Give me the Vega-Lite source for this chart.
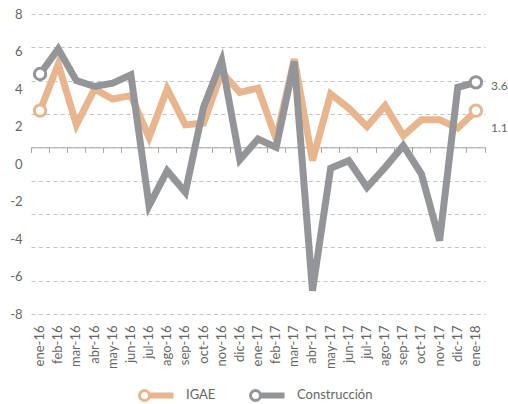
{
  "$schema": "https://vega.github.io/schema/vega-lite/v6.json",
  "width": 454,
  "height": 300,
  "autosize": {"type": "none"},
  "padding": {"left": 31, "top": 14, "right": 23, "bottom": 90},
  "config": {
    "view": {"stroke": null},
    "font": "Lato",
    "text": {"font": "Lato"}
  },
  "datasets": {
    "series": [
      {"mes": "ene-16", "serie": "IGAE", "valor": 2.2},
      {"mes": "feb-16", "serie": "IGAE", "valor": 5.0},
      {"mes": "mar-16", "serie": "IGAE", "valor": 1.35},
      {"mes": "abr-16", "serie": "IGAE", "valor": 3.5},
      {"mes": "may-16", "serie": "IGAE", "valor": 2.9},
      {"mes": "jun-16", "serie": "IGAE", "valor": 3.1},
      {"mes": "jul-16", "serie": "IGAE", "valor": 0.6},
      {"mes": "ago-16", "serie": "IGAE", "valor": 3.5},
      {"mes": "sep-16", "serie": "IGAE", "valor": 1.35},
      {"mes": "oct-16", "serie": "IGAE", "valor": 1.45},
      {"mes": "nov-16", "serie": "IGAE", "valor": 4.5},
      {"mes": "dic-16", "serie": "IGAE", "valor": 3.3},
      {"mes": "ene-17", "serie": "IGAE", "valor": 3.55},
      {"mes": "feb-17", "serie": "IGAE", "valor": 0.5},
      {"mes": "mar-17", "serie": "IGAE", "valor": 5.3},
      {"mes": "abr-17", "serie": "IGAE", "valor": -0.8},
      {"mes": "may-17", "serie": "IGAE", "valor": 3.2},
      {"mes": "jun-17", "serie": "IGAE", "valor": 2.35},
      {"mes": "jul-17", "serie": "IGAE", "valor": 1.25},
      {"mes": "ago-17", "serie": "IGAE", "valor": 2.5},
      {"mes": "sep-17", "serie": "IGAE", "valor": 0.7},
      {"mes": "oct-17", "serie": "IGAE", "valor": 1.65},
      {"mes": "nov-17", "serie": "IGAE", "valor": 1.65},
      {"mes": "dic-17", "serie": "IGAE", "valor": 1.15},
      {"mes": "ene-18", "serie": "IGAE", "valor": 2.2},
      {"mes": "ene-16", "serie": "Construcción", "valor": 4.4},
      {"mes": "feb-16", "serie": "Construcción", "valor": 5.9},
      {"mes": "mar-16", "serie": "Construcción", "valor": 4.0},
      {"mes": "abr-16", "serie": "Construcción", "valor": 3.65},
      {"mes": "may-16", "serie": "Construcción", "valor": 3.85},
      {"mes": "jun-16", "serie": "Construcción", "valor": 4.35},
      {"mes": "jul-16", "serie": "Construcción", "valor": -3.5},
      {"mes": "ago-16", "serie": "Construcción", "valor": -1.4},
      {"mes": "sep-16", "serie": "Construcción", "valor": -2.7},
      {"mes": "oct-16", "serie": "Construcción", "valor": 2.4},
      {"mes": "nov-16", "serie": "Construcción", "valor": 5.2},
      {"mes": "dic-16", "serie": "Construcción", "valor": -0.75},
      {"mes": "ene-17", "serie": "Construcción", "valor": 0.5},
      {"mes": "feb-17", "serie": "Construcción", "valor": 0.0},
      {"mes": "mar-17", "serie": "Construcción", "valor": 5.15},
      {"mes": "abr-17", "serie": "Construcción", "valor": -8.6},
      {"mes": "may-17", "serie": "Construcción", "valor": -1.25},
      {"mes": "jun-17", "serie": "Construcción", "valor": -0.8},
      {"mes": "jul-17", "serie": "Construcción", "valor": -2.4},
      {"mes": "ago-17", "serie": "Construcción", "valor": -1.2},
      {"mes": "sep-17", "serie": "Construcción", "valor": 0.1},
      {"mes": "oct-17", "serie": "Construcción", "valor": -1.6},
      {"mes": "nov-17", "serie": "Construcción", "valor": -5.6},
      {"mes": "dic-17", "serie": "Construcción", "valor": 3.6},
      {"mes": "ene-18", "serie": "Construcción", "valor": 3.9}
    ],
    "etiquetas": [
      {"mes": "ene-18", "serie": "Construcción", "valor": 3.6, "etiqueta": "3.6"},
      {"mes": "ene-18", "serie": "IGAE", "valor": 1.1, "etiqueta": "1.1"}
    ]
  },
  "resolve": {"axis": {"x": "independent", "y": "independent"}},
  "layer": [
    {
      "data": {"name": "series"},
      "transform": [{"filter": "datum.serie === 'IGAE'"}],
      "mark": {"type": "line", "strokeWidth": 7, "strokeJoin": "miter", "strokeCap": "butt"},
      "encoding": {
        "x": {"field": "mes", "type": "nominal",
          "scale": {"type": "band", "domain": ["ene-16","feb-16","mar-16","abr-16","may-16","jun-16","jul-16","ago-16","sep-16","oct-16","nov-16","dic-16","ene-17","feb-17","mar-17","abr-17","may-17","jun-17","jul-17","ago-17","sep-17","oct-17","nov-17","dic-17","ene-18"], "paddingInner": 0, "paddingOuter": 0},
          "axis": {"orient": "bottom", "title": null, "labelAngle": -90, "labelPadding": 11, "ticks": false, "domain": false, "grid": false, "labelFont": "Lato", "labelFontSize": 13, "labelColor": "#666666"}},
        "y": {"field": "valor", "type": "quantitative",
          "scale": {"domain": [-10, 8], "nice": false, "zero": false},
          "axis": {"values": [-10, -8, -6, -4, -2, 0, 2, 4, 6, 8], "grid": true, "gridDash": [4, 3.3], "gridColor": "#c4c4c4", "gridWidth": 1, "labels": false, "ticks": false, "domain": false, "title": null}},
        "color": {"field": "serie", "type": "nominal",
          "scale": {"domain": ["IGAE", "Construcción"], "range": ["#E8B68E", "#939598"]},
          "legend": {
            "title": null, "orient": "none", "legendX": 106, "legendY": 362, "direction": "horizontal",
            "symbolType": "M-0.943,0A0.286,0.286,0,1,1,-0.371,0A0.286,0.286,0,1,1,-0.943,0ZM-0.371,-0.086L1,-0.086M-0.371,0.086L1,0.086",
            "symbolSize": 1225, "symbolStrokeWidth": 3, "symbolFillColor": "white",
            "labelFont": "Lato", "labelFontSize": 13, "labelColor": "#666666", "labelOffset": 11, "columnPadding": 28,
            "encode": {"symbols": {"update": {"fill": {"value": "white"}, "strokeWidth": {"value": 3}}}}
          }}
      }
    },
    {
      "data": {"name": "series"},
      "transform": [{"filter": "datum.serie === 'Construcción'"}],
      "mark": {"type": "line", "strokeWidth": 7, "strokeJoin": "miter", "strokeCap": "butt"},
      "encoding": {
        "x": {"field": "mes", "type": "nominal",
          "scale": {"type": "band", "domain": ["ene-16","feb-16","mar-16","abr-16","may-16","jun-16","jul-16","ago-16","sep-16","oct-16","nov-16","dic-16","ene-17","feb-17","mar-17","abr-17","may-17","jun-17","jul-17","ago-17","sep-17","oct-17","nov-17","dic-17","ene-18"], "paddingInner": 0, "paddingOuter": 0},
          "axis": null},
        "y": {"field": "valor", "type": "quantitative", "scale": {"domain": [-10, 8], "nice": false, "zero": false}, "axis": null},
        "color": {"field": "serie", "type": "nominal", "scale": {"domain": ["IGAE", "Construcción"], "range": ["#E8B68E", "#939598"]}}
      }
    },
    {
      "data": {"name": "series"},
      "transform": [{"filter": "datum.mes === 'ene-16' || datum.mes === 'ene-18'"}],
      "mark": {"type": "point", "filled": false, "fill": "white", "strokeWidth": 3, "size": 130, "opacity": 1},
      "encoding": {
        "x": {"field": "mes", "type": "nominal",
          "scale": {"type": "band", "domain": ["ene-16","feb-16","mar-16","abr-16","may-16","jun-16","jul-16","ago-16","sep-16","oct-16","nov-16","dic-16","ene-17","feb-17","mar-17","abr-17","may-17","jun-17","jul-17","ago-17","sep-17","oct-17","nov-17","dic-17","ene-18"], "paddingInner": 0, "paddingOuter": 0},
          "axis": {"orient": "bottom", "offset": -166.67, "title": null, "labels": false, "grid": false, "domain": true, "domainColor": "#a6a6a6", "domainWidth": 1, "ticks": true, "tickColor": "#a6a6a6", "tickSize": 5, "tickWidth": 1, "bandPosition": 1, "tickExtra": true}},
        "y": {"field": "valor", "type": "quantitative", "scale": {"domain": [-10, 8], "nice": false, "zero": false}, "axis": null},
        "color": {"field": "serie", "type": "nominal", "scale": {"domain": ["IGAE", "Construcción"], "range": ["#E8B68E", "#939598"]}}
      }
    },
    {
      "data": {"name": "etiquetas"},
      "mark": {"type": "text", "align": "left", "baseline": "middle", "dx": 15, "dy": -1, "font": "Lato", "fontSize": 12, "color": "#666666"},
      "encoding": {
        "x": {"field": "mes", "type": "nominal",
          "scale": {"type": "band", "domain": ["ene-16","feb-16","mar-16","abr-16","may-16","jun-16","jul-16","ago-16","sep-16","oct-16","nov-16","dic-16","ene-17","feb-17","mar-17","abr-17","may-17","jun-17","jul-17","ago-17","sep-17","oct-17","nov-17","dic-17","ene-18"], "paddingInner": 0, "paddingOuter": 0},
          "axis": null},
        "y": {"field": "valor", "type": "quantitative", "scale": {"domain": [-10, 8], "nice": false, "zero": false},
          "axis": {"orient": "left", "values": [8, 5.75, 3.5, 1.25, -1, -3.25, -5.5, -7.75, -10], "labelExpr": "'' + round((datum.value + 10) * 8 / 9 - 8)", "grid": false, "ticks": false, "domain": false, "title": null, "labelPadding": 9, "labelFont": "Lato", "labelFontSize": 13, "labelColor": "#666666"}},
        "text": {"field": "etiqueta", "type": "nominal"}
      }
    }
  ]
}
